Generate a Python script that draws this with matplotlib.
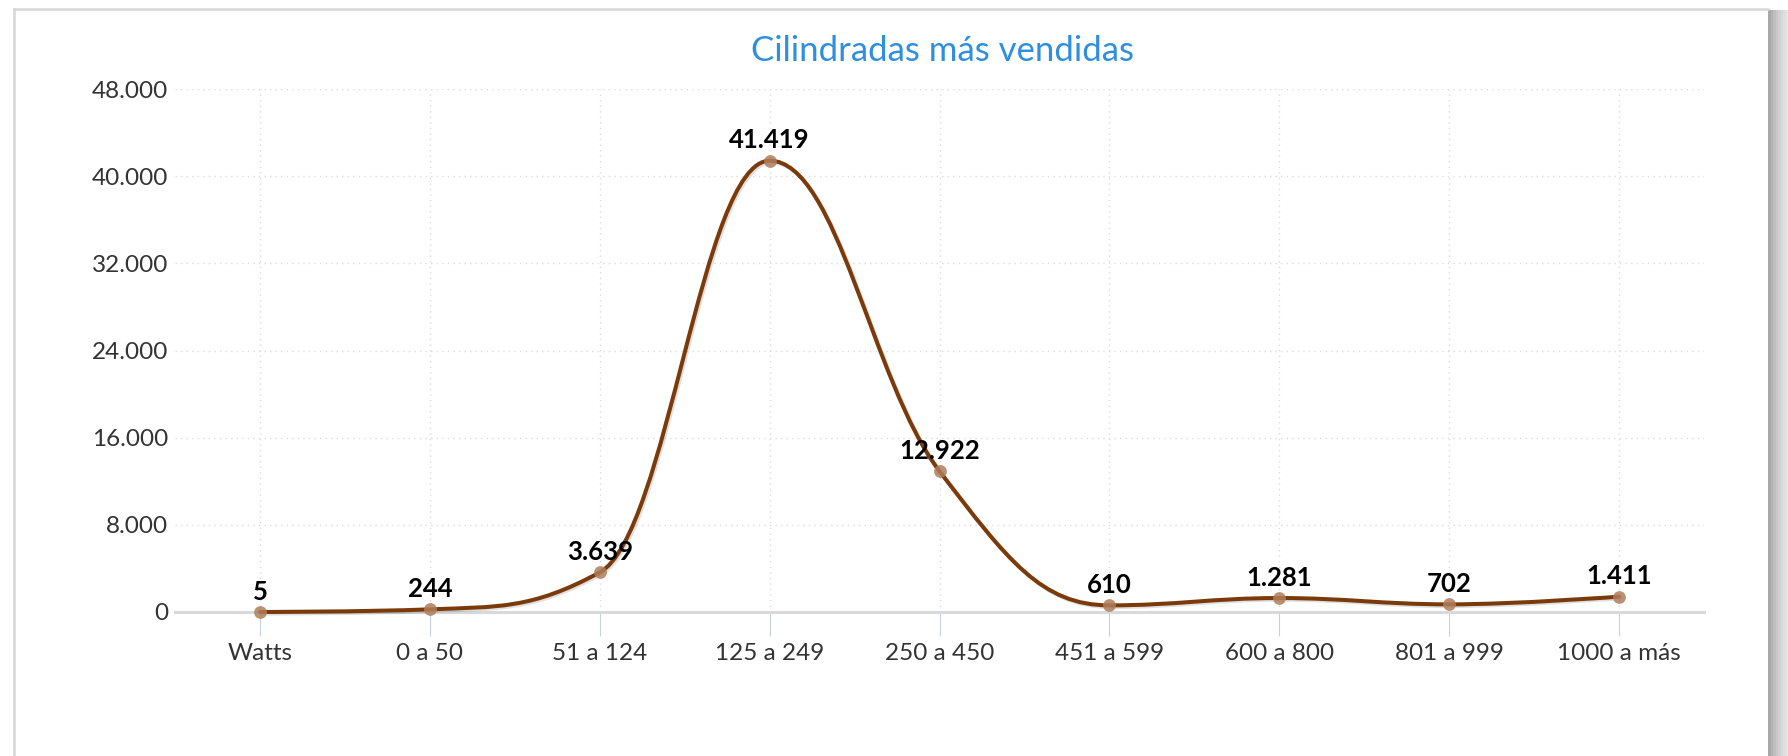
#!/usr/bin/env python3
# Cilindradas más vendidas - spline con etiquetas de datos

import numpy as np
import matplotlib
matplotlib.use("Agg")
import matplotlib.pyplot as plt
import matplotlib.patheffects as pe
from matplotlib.path import Path
from matplotlib.patches import PathPatch, Rectangle
from matplotlib.ticker import FuncFormatter, MultipleLocator

categorias = ["Watts", "0 a 50", "51 a 124", "125 a 249", "250 a 450",
              "451 a 599", "600 a 800", "801 a 999", "1000 a más"]
ventas = [5, 244, 3639, 41419, 12922, 610, 1281, 702, 1411]
titulo = "Cilindradas más vendidas"

MY_DPI = 100
LINE_COLOR = "#7b3a0a"
MARKER_COLOR = "#b07e5c"
TITLE_COLOR = "#2f8fdf"
TEXT_COLOR = "#333333"

plt.rcParams['font.family'] = ['Lato', 'DejaVu Sans']


def miles(v):
    return "{:,}".format(int(v)).replace(",", ".")


def spline_path(xs, ys, smoothing=1.5):
    # curva tipo "spline" (control points como Highcharts)
    denom = smoothing + 1
    n = len(xs)
    left = [None] * n
    right = [None] * n
    for i in range(1, n - 1):
        px, py = xs[i], ys[i]
        lx, ly = xs[i - 1], ys[i - 1]
        nx, ny = xs[i + 1], ys[i + 1]
        lcx = (smoothing * px + lx) / denom
        lcy = (smoothing * py + ly) / denom
        rcx = (smoothing * px + nx) / denom
        rcy = (smoothing * py + ny) / denom
        if rcx != lcx:
            corr = ((rcy - lcy) * (rcx - px)) / (rcx - lcx) + py - rcy
            lcy += corr
            rcy += corr
        if lcy > ly and lcy > py:
            lcy = max(ly, py)
            rcy = 2 * py - lcy
        elif lcy < ly and lcy < py:
            lcy = min(ly, py)
            rcy = 2 * py - lcy
        if rcy > ny and rcy > py:
            rcy = max(ny, py)
            lcy = 2 * py - rcy
        elif rcy < ny and rcy < py:
            rcy = min(ny, py)
            lcy = 2 * py - rcy
        left[i] = (lcx, lcy)
        right[i] = (rcx, rcy)
    verts = [(xs[0], ys[0])]
    codes = [Path.MOVETO]
    for i in range(1, n):
        c1 = right[i - 1] if right[i - 1] is not None else (xs[i - 1], ys[i - 1])
        c2 = left[i] if left[i] is not None else (xs[i], ys[i])
        verts += [c1, c2, (xs[i], ys[i])]
        codes += [Path.CURVE4, Path.CURVE4, Path.CURVE4]
    return Path(verts, codes)


fig = plt.figure(figsize=(1788 / MY_DPI, 756 / MY_DPI), dpi=MY_DPI)
fig.patch.set_facecolor("white")

# marco del contenedor
fig.add_artist(plt.Line2D([14 / 1788, 1768 / 1788], [1 - 9 / 756, 1 - 9 / 756],
                          color="#d6d6d6", lw=1.8, transform=fig.transFigure))
fig.add_artist(plt.Line2D([14 / 1788, 14 / 1788], [0, 1 - 9 / 756],
                          color="#d6d6d6", lw=1.8, transform=fig.transFigure))
grises = ["#a8a8a8", "#b4b4b4", "#bebebe", "#c8c8c8", "#d0d0d0", "#d8d8d8", "#dedede", "#e4e4e4"]
for k, g in enumerate(grises):
    fig.add_artist(Rectangle(((1768 + k * 2.5) / 1788, 0), 2.6 / 1788, 1 - 10 / 756,
                             transform=fig.transFigure, color=g, lw=0))

ax = fig.add_axes([175 / 1788, 1 - 612 / 756, (1704 - 175) / 1788, (612 - 89) / 756])
x = np.arange(len(categorias))

ax.set_xlim(-0.5, len(categorias) - 0.5)
ax.set_ylim(0, 48000)
ax.yaxis.set_major_locator(MultipleLocator(8000))
ax.yaxis.set_major_formatter(FuncFormatter(lambda v, p: miles(v)))
ax.set_xticks(x)
ax.set_xticklabels(categorias)

for s in ["top", "right", "left"]:
    ax.spines[s].set_visible(False)
ax.spines["bottom"].set_color("#d9d9d9")
ax.spines["bottom"].set_linewidth(2.2)

ax.grid(True, color="#dcdcdc", linestyle=(0, (1, 3)), linewidth=1.0)
ax.set_axisbelow(True)
ax.tick_params(axis="y", length=0, pad=5, labelsize=17.5, labelcolor=TEXT_COLOR)
ax.tick_params(axis="x", length=17, width=0.8, color="#c5d2e2", pad=5,
               labelsize=17.5, labelcolor=TEXT_COLOR)

curva = PathPatch(spline_path(list(x), ventas), facecolor="none", edgecolor=LINE_COLOR,
                  lw=2.9, capstyle="round", joinstyle="round", zorder=3,
                  path_effects=[pe.SimpleLineShadow(offset=(1.2, -1.2), shadow_color="black", alpha=0.12),
                                pe.Normal()])
curva.set_clip_on(False)
ax.add_patch(curva)

ax.scatter(x, ventas, s=85, color=MARKER_COLOR, alpha=0.85, zorder=4, clip_on=False, linewidths=0)

for xi, v in zip(x, ventas):
    ax.annotate(miles(v), (xi, v), xytext=(0, 6), textcoords="offset points",
                ha="center", va="bottom", fontsize=18.5, fontweight="bold", color="black", zorder=5)

fig.text(0.5 * (752 + 1133) / 1788, 1 - 51 / 756, titulo, ha="center", va="center",
         fontsize=25, color=TITLE_COLOR)

plt.savefig("out.png", dpi=MY_DPI)
